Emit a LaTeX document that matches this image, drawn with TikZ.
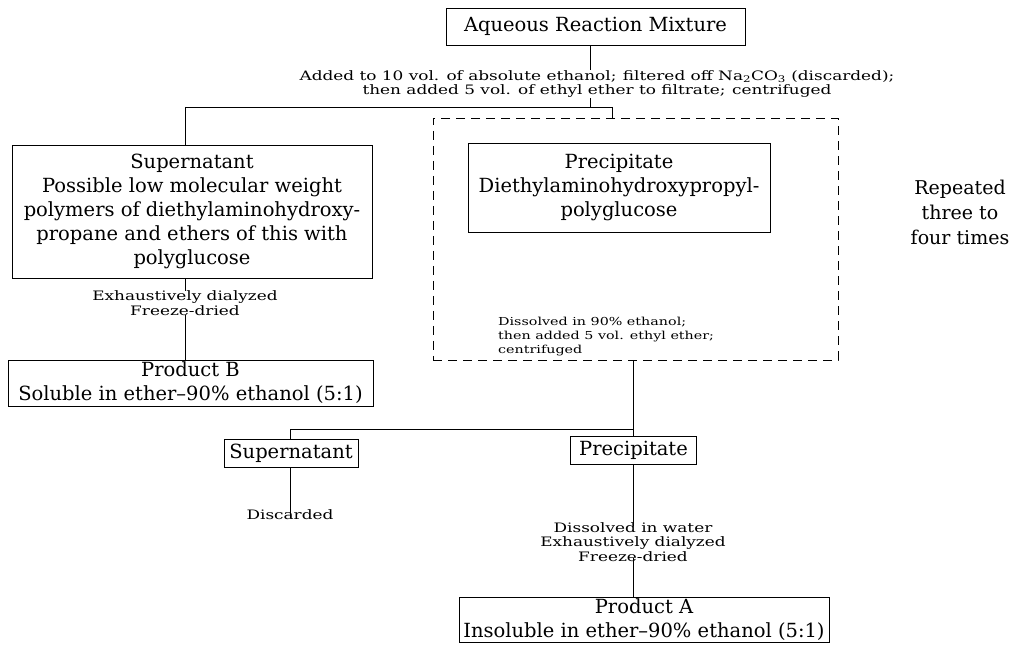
\documentclass[tikz,border=0pt]{standalone}
\usepackage{fontspec}
\setmainfont{DejaVu Serif}
\newfontfamily\notefont[FakeStretch=1.3]{DejaVu Serif}
\begin{document}
\begin{tikzpicture}[x=1pt,y=-1pt,
  box/.style={draw,line width=0.8pt,inner sep=0pt,align=center,font=\fontsize{19.5}{24}\selectfont},
  note/.style={inner sep=0pt,align=center,font=\notefont\fontsize{13}{14.5}\selectfont},
  conn/.style={line width=0.8pt},
  loopbox/.style={draw,dashed,dash pattern=on 9pt off 6pt,line width=0.8pt,inner sep=0pt}]
\useasboundingbox (0,0) rectangle (1015,652);
% top
\node[box,minimum width=299pt,minimum height=37pt] (top) at (595.5,26.5) {Aqueous Reaction Mixture};
\node[note] (n1) at (597,84) {Added to 10 vol. of absolute ethanol;\enspace filtered off Na\textsubscript{2}CO\textsubscript{3} (discarded);\\then added 5 vol. of ethyl ether to filtrate;\enspace centrifuged};
\coordinate (j1) at (590,107);
\coordinate (jl) at (185,107);
\coordinate (jr) at (612,107);
% supernatant
\node[box,minimum width=360pt,minimum height=133pt] (sup) at (192,211.5) {Supernatant\\Possible low molecular weight\\polymers of diethylaminohydroxy-\\propane and ethers of this with\\polyglucose};
\node[note] (n2) at (185,303) {Exhaustively dialyzed\\Freeze-dried};
\node[box,minimum width=365pt,minimum height=46pt] (pb) at (190.5,383) {Product B\\Soluble in ether--90\% ethanol (5:1)};
% loop
\node[loopbox,minimum width=405pt,minimum height=242pt] (loop) at (635.5,239) {};
\node[box,minimum width=302pt,minimum height=89pt] (pre) at (619,187.5) {Precipitate\\Diethylaminohydroxypropyl-\\polyglucose};
\node[note,align=left,anchor=north west,font=\notefont\fontsize{11}{14}\selectfont] (n3) at (498,317) {Dissolved in 90\% ethanol;\\then added 5 vol. ethyl ether;\\centrifuged};
\node[inner sep=0pt,align=center,font=\fontsize{19}{25}\selectfont] (rep) at (960,212) {Repeated\\three to\\four times};
% second split
\coordinate (j2) at (633,429);
\coordinate (j2l) at (290,429);
\node[box,minimum width=134pt,minimum height=28pt] (sup2) at (291,453) {Supernatant};
\node[box,minimum width=126pt,minimum height=28pt] (pre2) at (633.5,450) {Precipitate};
\node[note] (disc) at (290,515) {Discarded};
\node[note] (n4) at (633,542) {Dissolved in water\\Exhaustively dialyzed\\Freeze-dried};
\node[box,minimum width=370pt,minimum height=45pt] (pa) at (644,619.5) {Product A\\Insoluble in ether--90\% ethanol (5:1)};
% connectors
\draw[conn] (top.south -| j1) -- (n1.north -| j1);
\draw[conn] (n1.south -| j1) -- (j1);
\draw[conn] (jl) -- (jr);
\draw[conn] (jl) -- (sup.north -| jl);
\draw[conn] (jr) -- (loop.north -| jr);
\draw[conn] (sup.south -| jl) -- (n2.north -| jl);
\draw[conn] (n2.south -| jl) -- (pb.north -| jl);
\draw[conn] (loop.south -| j2) -- (j2);
\draw[conn] (j2l) -- (j2);
\draw[conn] (j2l) -- (sup2.north -| j2l);
\draw[conn] (j2) -- (pre2.north -| j2);
\draw[conn] (sup2.south -| j2l) -- ([yshift=-8pt]disc.north -| j2l);
\draw[conn] (pre2.south -| j2) -- ([yshift=-4pt]n4.north -| j2);
\draw[conn] ([yshift=4pt]n4.south -| j2) -- (pa.north -| j2);
\end{tikzpicture}
\end{document}
